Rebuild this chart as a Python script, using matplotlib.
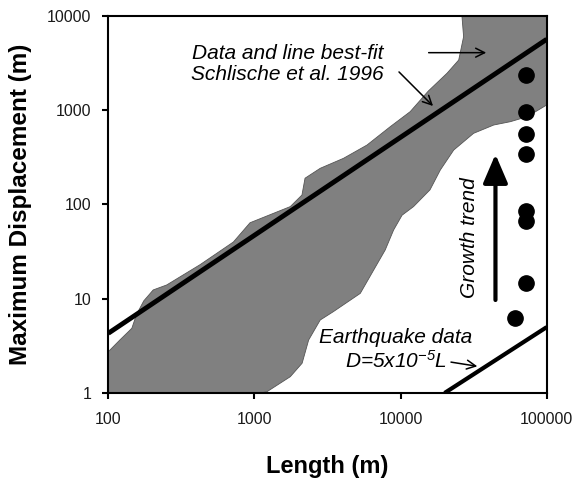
import numpy as np
import matplotlib
matplotlib.use("Agg")
import matplotlib.pyplot as plt
from matplotlib.ticker import FixedLocator, NullLocator

plt.rcParams['font.family'] = ['Liberation Sans', 'DejaVu Sans']
plt.rcParams['mathtext.fontset'] = 'custom'
plt.rcParams['mathtext.rm'] = 'Liberation Sans:italic'
plt.rcParams['mathtext.it'] = 'Liberation Sans:italic'
plt.rcParams['mathtext.default'] = 'rm'

# gray band (Schlische et al. 1996 data field), upper edge left -> right
band_upper_L = [100, 120, 145, 156, 175, 203, 251, 425, 718, 933, 1760, 2115,
                2220, 2820, 4070, 5890, 8510, 11640, 15500, 20800, 25000, 27000, 26300]
band_upper_D = [2.74, 3.65, 4.86, 6.8, 9.5, 12.4, 14, 23, 40, 64, 95, 126,
                190, 242, 309, 427, 670, 966, 1600, 2470, 3410, 6030, 10000]
# lower edge right -> left
band_lower_L = [100000, 100000, 73400, 56400, 43400, 31600, 23100, 18700, 15900, 12270,
                10240, 8960, 7850, 6550, 5300, 3470, 2820, 2350, 2120, 1760, 1216, 1100, 100]
band_lower_D = [10000, 1137, 853, 756, 697, 569, 378, 232, 143, 95,
                77, 53.6, 32.9, 20.2, 11.4, 7.3, 5.95, 3.65, 2.07, 1.49, 1.03, 1, 1]

# best-fit line
fit_L = [100, 100000]
fit_D = [4.3, 5660]

# earthquake data D = 5e-5 L
eq_L = np.array([20000, 100000])
eq_D = 5e-5 * eq_L

# fault points
pts_L = [72300, 72300, 72300, 72300, 72300, 72300, 72300, 61100]
pts_D = [2377, 951, 558, 341, 84.8, 66.4, 14.6, 6.2]

xticks = [100, 1000, 10000, 100000]
yticks = [1, 10, 100, 1000, 10000]

fig = plt.figure(figsize=(5.75, 4.84), dpi=100)
ax = fig.add_axes([0.1883, 0.188, 0.7625, 0.779])

ax.fill(band_upper_L + band_lower_L, band_upper_D + band_lower_D,
        facecolor='#808080', edgecolor='#555555', lw=0.6, zorder=1)
ax.plot(fit_L, fit_D, color='black', lw=3.5, solid_capstyle='butt', zorder=3)
ax.plot(eq_L, eq_D, color='black', lw=3, solid_capstyle='butt', zorder=3)
ax.plot(pts_L, pts_D, 'o', color='black', ms=11, zorder=4)

ax.set_xscale('log')
ax.set_yscale('log')
ax.set_xlim(100, 100000)
ax.set_ylim(1, 10000)

ax.xaxis.set_major_locator(FixedLocator(xticks))
ax.yaxis.set_major_locator(FixedLocator(yticks))
ax.xaxis.set_minor_locator(NullLocator())
ax.yaxis.set_minor_locator(NullLocator())
ax.set_xticklabels([str(v) for v in xticks])
ax.set_yticklabels([str(v) for v in yticks])
ax.tick_params(axis='both', direction='out', length=4, width=1.5,
               labelsize=11.5, labelcolor='#1a1a1a')
ax.tick_params(axis='x', pad=10)
ax.tick_params(axis='y', pad=8)
for s in ax.spines.values():
    s.set_linewidth(1.5)

ax.set_xlabel('Length (m)', fontsize=17, fontweight='bold')
ax.set_ylabel('Maximum Displacement (m)', fontsize=17.5, fontweight='bold')
ax.xaxis.set_label_coords(0.5, -0.165)
ax.yaxis.set_label_coords(-0.175, 0.5)

# annotations
ax.text(0.409, 0.873, 'Data and line best-fit\nSchlische et al. 1996',
        transform=ax.transAxes, ha='center', va='center', fontsize=15,
        style='italic', linespacing=1.15)
ax.annotate('', xy=(40300, 4080), xytext=(14900, 4080),
            arrowprops=dict(arrowstyle='->', lw=1.1, mutation_scale=16))
ax.annotate('', xy=(17200, 1057), xytext=(9460, 2673),
            arrowprops=dict(arrowstyle='->', lw=1.1, mutation_scale=16))

ax.text(0.656, 0.114, 'Earthquake data\nD=5x10$^{-5}$L',
        transform=ax.transAxes, ha='center', va='center', fontsize=15,
        style='italic', linespacing=1.15)
ax.annotate('', xy=(35000, 1.9), xytext=(21200, 2.15),
            arrowprops=dict(arrowstyle='->', lw=1.1, mutation_scale=16))

ax.text(0.823, 0.411, 'Growth trend', transform=ax.transAxes, rotation=90,
        ha='center', va='center', fontsize=15, style='italic')
ax.annotate('', xy=(44600, 341), xytext=(44600, 9.7),
            arrowprops=dict(arrowstyle='-|>,head_length=0.875,head_width=0.375',
                            lw=3, mutation_scale=20, color='black',
                            shrinkA=0, shrinkB=0))

plt.savefig('out.png', dpi=100)
